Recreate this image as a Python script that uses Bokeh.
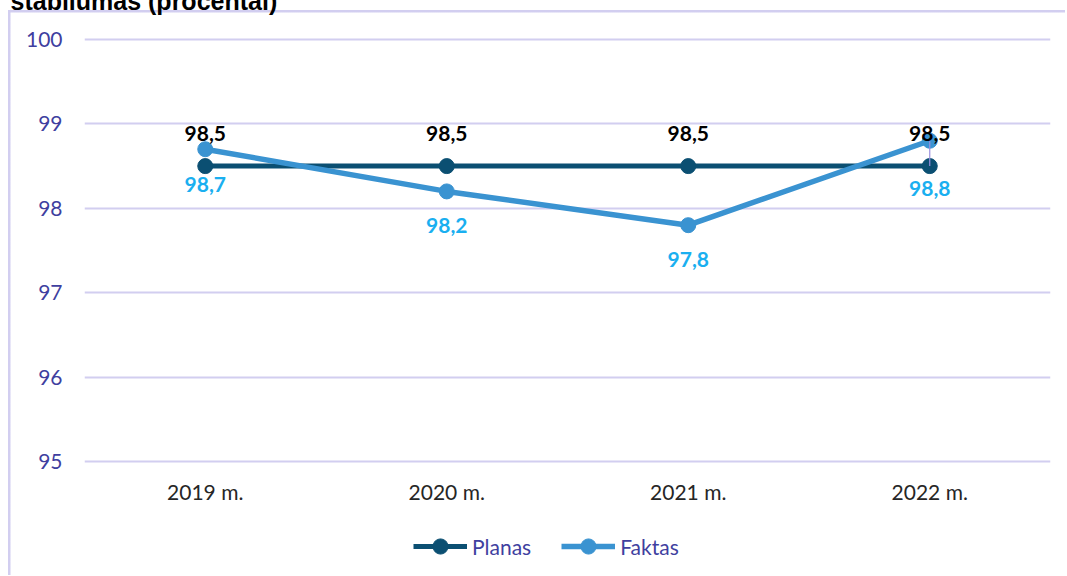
from bokeh.plotting import figure
from bokeh.layouts import column
from bokeh.models import (ColumnDataSource, FactorRange, Range1d, FixedTicker, Legend,
                          LegendItem)
from bokeh.core.properties import value
from bokeh.embed import file_html
from bokeh.resources import INLINE

# ---- data ----
years = ["2019 m.", "2020 m.", "2021 m.", "2022 m."]
planas = [98.5, 98.5, 98.5, 98.5]
faktas = [98.7, 98.2, 97.8, 98.8]
y_ticks = [95, 96, 97, 98, 99, 100]
title_text = "stabilumas (procentai)"
series_names = ["Planas", "Faktas"]

fmt = lambda v: f"{v:.1f}".replace(".", ",")

src = ColumnDataSource(dict(
    x=years, planas=planas, faktas=faktas,
    plab=[fmt(v) for v in planas], flab=[fmt(v) for v in faktas],
    poff=[-33, -33, -33, -33], foff=[35, 34, 34, 48],
))

C_PLAN = "#0b4f72"
C_FAKT = "#3a93d1"
C_FLAB = "#1aaff0"
C_GRID = "#d2cef0"
C_AXIS = "#3f3fa0"

M = 40                     # page shifted up so the title is cut at the top
W = 1065
H1 = 521 + M               # main chart
H2 = 54                    # legend strip

p = figure(x_range=FactorRange(*years), y_range=Range1d(94.953, 100.047),
           width=W, height=H1, output_backend="svg", toolbar_location=None,
           min_border_left=84, min_border_right=15, min_border_top=35 + M,
           min_border_bottom=56)
p.outline_line_color = None
p.background_fill_color = "white"
p.border_fill_alpha = 0

p.title.text = title_text
p.title.text_font = "Liberation Sans"
p.title.text_font_style = "bold"
p.title.text_font_size = "25px"
p.title.text_color = "#000000"
p.title.align = "left"
p.title.offset = -74
p.title.standoff = 42

p.xgrid.grid_line_color = None
p.ygrid.grid_line_color = C_GRID
p.ygrid.grid_line_width = 1.8

p.yaxis.ticker = FixedTicker(ticks=y_ticks)
for ax in (p.xaxis[0], p.yaxis[0]):
    ax.axis_line_color = None
    ax.major_tick_line_color = None
    ax.minor_tick_line_color = None
    ax.major_label_text_font = "Lato"
    ax.major_label_text_font_size = "21px"
p.yaxis.major_label_text_color = C_AXIS
p.yaxis.major_label_standoff = 16
p.xaxis.major_label_text_color = "#262626"
p.xaxis.major_label_standoff = 7

# series
p.line("x", "planas", source=src, line_color=C_PLAN, line_width=5)
p.scatter("x", "planas", source=src, size=15, fill_color=C_PLAN, line_color=C_PLAN)
p.line("x", "faktas", source=src, line_color=C_FAKT, line_width=5.5)
p.scatter("x", "faktas", source=src, size=15, fill_color=C_FAKT, line_color=C_FAKT)

# leader line for the last Faktas label
p.segment(x0=[years[3]], y0=[faktas[3]], x1=[years[3]], y1=[planas[3]],
          line_color="#9a90e0", line_width=1.2)

# data labels
p.text("x", "planas", text="plab", source=src, y_offset="poff",
       text_font=value("Lato"), text_font_style="bold", text_font_size="21px",
       text_color="#000000", text_align="center", text_baseline="middle")
p.text("x", "faktas", text="flab", source=src, y_offset="foff",
       text_font=value("Lato"), text_font_style="bold", text_font_size="21px",
       text_color=C_FLAB, text_align="center", text_baseline="middle")

# ---- legend strip (frame = whole strip, pixel coordinates) ----
q = figure(x_range=Range1d(0, W), y_range=Range1d(0, H2), width=W, height=H2,
           output_backend="svg", toolbar_location=None,
           min_border_left=0, min_border_right=0, min_border_top=0, min_border_bottom=0)
q.axis.visible = False
q.grid.visible = False
q.outline_line_color = None
q.background_fill_alpha = 0
q.border_fill_alpha = 0
items = []
# proxy renderers for the legend keys: their single sample lies outside the strip's range
proxy_x = [-50, -40]
proxy_y = [-50, -50]
for name, col, lw in zip(series_names, [C_PLAN, C_FAKT], [5, 5.5]):
    r1 = q.line(x=proxy_x, y=proxy_y, line_color=col, line_width=lw)
    r2 = q.scatter(x=proxy_x, y=proxy_y, size=15, fill_color=col, line_color=col)
    items.append(LegendItem(label=name, renderers=[r1, r2]))
legend = Legend(items=items, orientation="horizontal", location=(329, 10),
                glyph_width=54, glyph_height=38, label_standoff=5, spacing=30,
                padding=0, margin=0, border_line_color=None, background_fill_alpha=0,
                label_text_font="Lato", label_text_font_size="21px",
                label_text_color=C_AXIS)
q.add_layout(legend, "center")

layout = column(p, q, spacing=0)
layout.styles = {
    "margin-top": f"-{M}px",
    "background-image": f"linear-gradient({C_GRID}, {C_GRID}), linear-gradient({C_GRID}, {C_GRID})",
    "background-repeat": "no-repeat",
    "background-position": f"8px {10 + M}px, 8px {10 + M}px",
    "background-size": "2.5px 100%, 100% 2.5px",
}

open("out.html", "w").write(file_html(layout, INLINE))
